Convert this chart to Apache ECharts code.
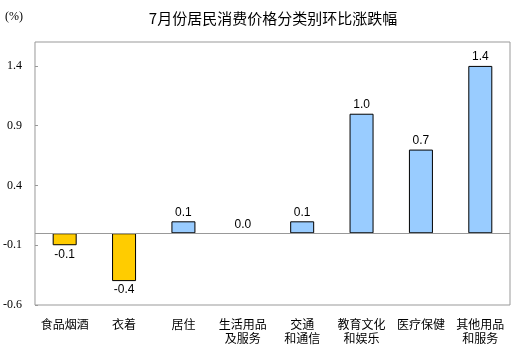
<!DOCTYPE html>
<html>
<head>
<meta charset="utf-8">
<script src="https://cdn.jsdelivr.net/npm/echarts@6/dist/echarts.min.js"></script>
<style>html,body{margin:0;padding:0;background:#fff}#c{width:517px;height:351px}</style>
</head>
<body>
<div id="c"></div>
<script>
const categories = ['食品烟酒', '衣着', '居住', '生活用品\n及服务', '交通\n和通信', '教育文化\n和娱乐', '医疗保健', '其他用品\n和服务'];
const values = [-0.1, -0.4, 0.1, 0.0, 0.1, 1.0, 0.7, 1.4];
const yTicks = [-0.6, -0.1, 0.4, 0.9, 1.4];
const titleText = '7月份居民消费价格分类别环比涨跌幅';
const unitText = '(%)';

const chart = echarts.init(document.getElementById('c'), null, {renderer: 'canvas'});
chart.setOption({
  animation: false,
  backgroundColor: '#fff',
  title: {
    text: titleText, left: 268, top: 6, textAlign: 'center',
    textStyle: {fontSize: 15, fontWeight: 'normal', color: '#000', fontFamily: 'Noto Sans CJK SC'}
  },
  graphic: [{
    type: 'text', left: 5, top: 11,
    style: {text: unitText, fontSize: 12, fill: '#000', fontFamily: 'Liberation Serif'}
  }],
  grid: {left: 32, right: 7, top: 42, bottom: 46, show: true, borderColor: '#999', borderWidth: 1, backgroundColor: 'transparent'},
  xAxis: {
    type: 'category', data: categories,
    axisLine: {show: false}, axisTick: {show: false},
    axisLabel: {interval: 0, fontSize: 12, color: '#000', fontFamily: 'Noto Sans CJK SC', lineHeight: 14, margin: 12}
  },
  yAxis: {
    type: 'value', min: -0.6, max: 1.6,
    axisLine: {show: false},
    splitLine: {show: false},
    axisTick: {show: true, inside: true, length: 3, lineStyle: {color: '#999'}, customValues: yTicks},
    axisLabel: {customValues: yTicks, fontSize: 12, color: '#000', fontFamily: 'Liberation Serif', margin: 13,
      formatter: v => v.toFixed(1)}
  },
  series: [{
    type: 'bar', barWidth: 24,
    data: values.map(v => ({
      value: v,
      itemStyle: {color: v < 0 ? '#FFCC00' : '#99CCFF', borderColor: '#000', borderWidth: v === 0 ? 0 : 1},
      label: {position: v < 0 ? 'bottom' : 'top'}
    })),
    label: {show: true, fontSize: 12, color: '#000', fontFamily: 'Liberation Sans', distance: 3,
      formatter: p => p.value.toFixed(1)},
    markLine: {
      silent: true, symbol: 'none', label: {show: false},
      lineStyle: {color: '#999', type: 'solid', width: 1},
      data: [{yAxis: 0}]
    }
  }]
});
</script>
</body>
</html>
